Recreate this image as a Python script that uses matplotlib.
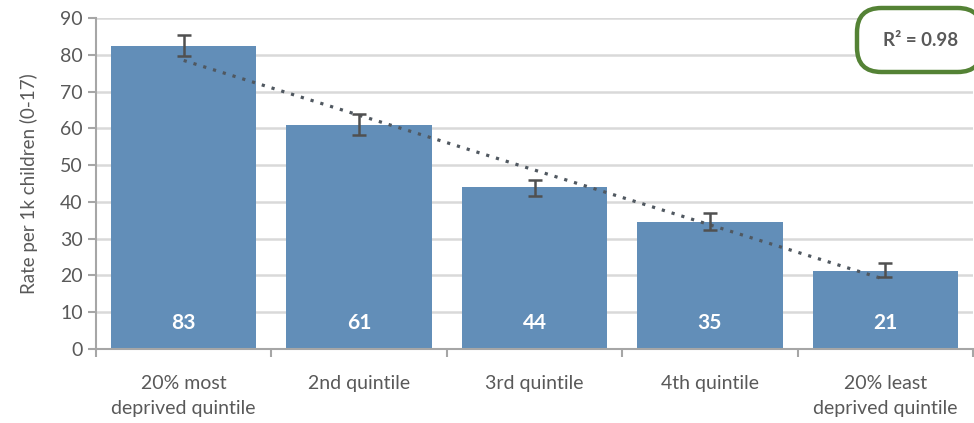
import numpy as np
import matplotlib
matplotlib.use("Agg")
import matplotlib.pyplot as plt
from matplotlib.patches import FancyBboxPatch

categories = ["20% most\ndeprived quintile", "2nd quintile", "3rd quintile", "4th quintile", "20% least\ndeprived quintile"]
values = [82.5, 61.0, 44.0, 34.6, 21.2]
labels = ["83", "61", "44", "35", "21"]
err_low = [79.6, 58.2, 41.6, 32.3, 19.6]
err_high = [85.3, 63.9, 45.9, 37.0, 23.4]
r2_text = "R² = 0.98"

plt.rcParams['font.family'] = ['Lato', 'DejaVu Sans']
grey = "#595959"

fig = plt.figure(figsize=(9.74, 4.23), dpi=100)
ax = fig.add_axes([96/974, 1-349/423, (973-96)/974, (349-18)/423])

x = np.arange(len(categories))
bar_color = "#628EB8"
ax.bar(x, values, width=0.83, color=bar_color, zorder=2)
vals = np.array(values)
yerr = np.array([vals - np.array(err_low), np.array(err_high) - vals])
ax.errorbar(x, values, yerr=yerr, fmt='none', ecolor="#505050", elinewidth=1.8, capsize=5, capthick=1.8, zorder=4)

coef = np.polyfit(x + 1, vals, 1)
trend = np.polyval(coef, x + 1)
ax.plot(x, trend, linestyle=(0, (1, 2.2)), color="#505860", linewidth=2.3, zorder=3)

for xi, lab in zip(x, labels):
    ax.text(xi, 7, lab, ha='center', va='center', color='white', fontsize=15, fontweight='bold', zorder=5)

ax.set_xlim(-0.5, len(categories) - 0.5)
ax.set_ylim(0, 90)
ax.set_yticks(np.arange(0, 91, 10))
ax.yaxis.grid(True, color="#d9d9d9", linewidth=1.8, zorder=0)
ax.set_axisbelow(True)
ax.set_xticks(np.arange(-0.5, len(categories), 1.0))
ax.set_xticklabels([])
ax.set_xticks(x, minor=True)
ax.set_xticklabels(categories, minor=True, fontsize=14, color=grey, linespacing=1.55)
ax.tick_params(axis='x', which='minor', length=0, pad=19)
ax.tick_params(axis='x', which='major', length=6, width=1.5, color="#a6a6a6", direction='out')
ax.tick_params(axis='y', length=6, width=1.5, color="#a6a6a6", labelsize=14, labelcolor=grey)
for s in ['top', 'right']:
    ax.spines[s].set_visible(False)
for s in ['left', 'bottom']:
    ax.spines[s].set_color("#a6a6a6")
    ax.spines[s].set_linewidth(1.5)
ax.set_ylabel("Rate per 1k children (0-17)", fontsize=13.5, color=grey, labelpad=16)

box = FancyBboxPatch((857/974, 1-72/423), 125/974, 64/423, boxstyle="round,pad=0,rounding_size=0.025",
                     transform=fig.transFigure, facecolor='white', edgecolor="#548235", linewidth=3.2,
                     clip_on=False, mutation_aspect=974/423)
fig.patches.append(box)
fig.text(921/974, 1-41/423, r2_text, ha='center', va='center', fontsize=13.5, fontweight='bold', color=grey)

fig.savefig("out.png", dpi=100)
